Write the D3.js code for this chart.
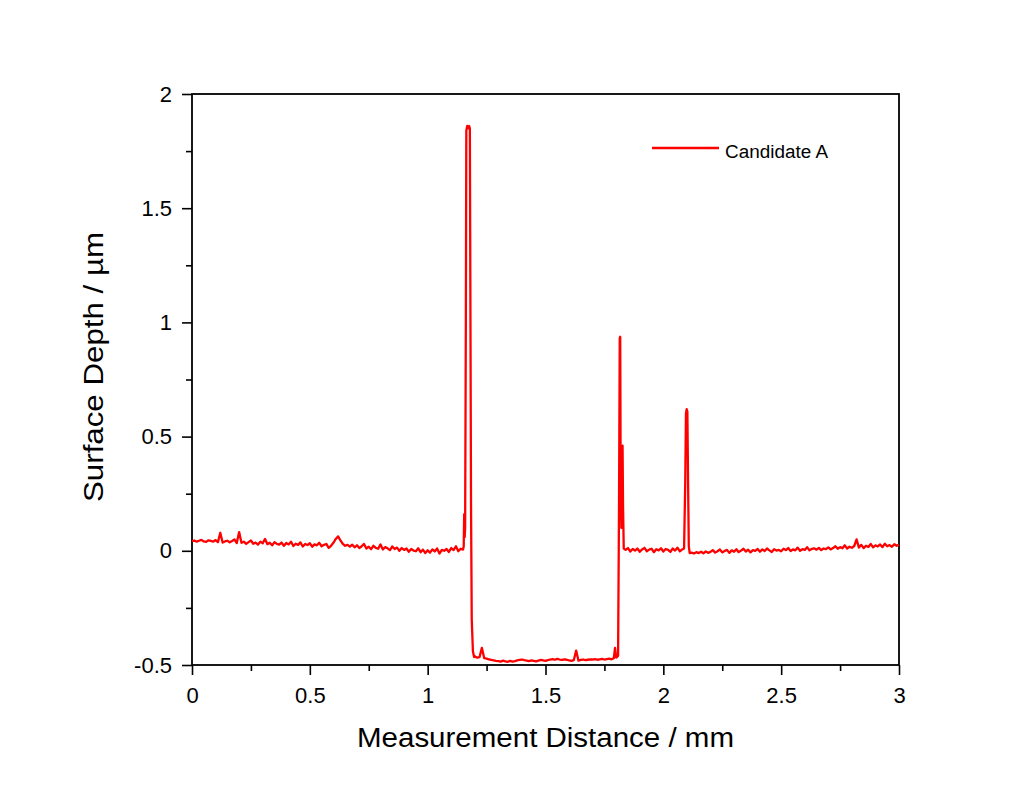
<!DOCTYPE html>
<html>
<head>
<meta charset="utf-8">
<script src="https://cdn.jsdelivr.net/npm/d3@7"></script>
<style>
  body { margin: 0; background: #fff; }
  text { font-family: "Liberation Sans", Arial, sans-serif; fill: #000; }
</style>
</head>
<body>
<svg id="chart" width="1024" height="790"></svg>
<script>
// profile samples (µm); regular runs start at xStart with 0.01 mm spacing
const leftStart = 0.0;
const leftBase = [
  0.042, 0.045, 0.040, 0.044, 0.048, 0.041, 0.039, 0.046, 0.043, 0.040,
  0.047, 0.038, 0.079, 0.036, 0.041, 0.044, 0.037, 0.043, 0.050, 0.034,
  0.082, 0.035, 0.040, 0.030, 0.038, 0.045, 0.031, 0.036, 0.027, 0.040,
  0.033, 0.052, 0.029, 0.035, 0.024, 0.038, 0.030, 0.027, 0.036, 0.022,
  0.034, 0.028, 0.040, 0.021, 0.031, 0.026, 0.037, 0.019, 0.030, 0.025,
  0.033, 0.018, 0.028, 0.024, 0.035, 0.020, 0.026, 0.030, 0.013, 0.022,
  0.035, 0.052, 0.063, 0.045, 0.030, 0.022, 0.026, 0.018, 0.027, 0.015,
  0.024, 0.012, 0.020, 0.030, 0.010, 0.018, 0.007, 0.022, 0.013, 0.009,
  0.028, 0.006, 0.016, 0.011, 0.003, 0.019, 0.008, 0.014, 0.000, 0.012,
  0.004, 0.010, -0.004, 0.008, 0.001, -0.002, 0.011, -0.006, 0.005, -0.010,
  0.002, -0.008, 0.006, -0.003, 0.010, -0.012, 0.004, 0.000, 0.008, -0.005,
  0.012, 0.003, 0.020, -0.002, 0.009, 0.005
];
const bigPeak = [
  [1.153, 0.02], [1.155, 0.16], [1.157, 0.06], [1.159, 0.10], [1.162, 1.0],
  [1.164, 1.84], [1.168, 1.86], [1.172, 1.85], [1.176, 1.86], [1.179, 1.85],
  [1.181, 1.2], [1.184, 0.2], [1.187, -0.3], [1.192, -0.44], [1.197, -0.465]
];
const pitStart = 1.20;
const pitBase = [
  -0.462, -0.468, -0.466, -0.425, -0.470, -0.472, -0.475, -0.478, -0.480, -0.482,
  -0.483, -0.485, -0.481, -0.484, -0.486, -0.482, -0.485, -0.483, -0.480, -0.478,
  -0.476, -0.479, -0.481, -0.483, -0.480, -0.482, -0.484, -0.481, -0.478, -0.480,
  -0.482, -0.479, -0.476, -0.474, -0.477, -0.473, -0.476, -0.478, -0.475, -0.477,
  -0.480, -0.482, -0.479, -0.437, -0.481, -0.478, -0.476, -0.479, -0.477, -0.475,
  -0.476, -0.474, -0.477, -0.475, -0.473, -0.476, -0.474, -0.472, -0.475, -0.470
];
const stepUp = [
  [1.795, -0.425], [1.80, -0.468], [1.808, -0.46], [1.812, 0.2], [1.815, 0.93],
  [1.817, 0.937], [1.819, 0.3], [1.822, 0.1], [1.825, 0.45], [1.827, 0.46],
  [1.829, 0.2], [1.832, 0.01]
];
const midStart = 1.84;
const midBase = [
  0.004, 0.012, -0.003, 0.008, 0.001, 0.010,
  -0.004, 0.006, 0.013, -0.002, 0.005, 0.009, -0.006, 0.007, 0.002, 0.011,
  -0.003, 0.008, 0.004, -0.005, 0.010, 0.001, 0.014, -0.002, 0.006
];
const smallPeak = [
  [2.088, 0.01], [2.093, 0.3], [2.096, 0.60], [2.099, 0.62], [2.102, 0.61],
  [2.105, 0.3], [2.108, 0.02], [2.112, -0.01]
];
const rightStart = 2.12;
const rightBase = [
  -0.008, -0.012, -0.006, -0.010, -0.004, -0.011, -0.003, -0.009,
  -0.005, 0.003, -0.008, -0.002, 0.006, -0.007, -0.001, 0.004, -0.009, 0.002,
  -0.004, 0.007, -0.006, 0.001, 0.009, -0.003, 0.005, -0.007, 0.003, 0.000,
  0.008, -0.004, 0.006, -0.001, 0.010, 0.002, -0.005, 0.007, 0.001, 0.004,
  -0.002, 0.009, 0.003, 0.012, -0.001, 0.006, 0.002, 0.014, 0.000, 0.007,
  0.004, 0.016, 0.002, 0.008, 0.011, 0.005, 0.013, 0.003, 0.010, 0.007,
  0.015, 0.006, 0.012, 0.020, 0.009, 0.016, 0.011, 0.024, 0.010, 0.018,
  0.013, 0.021, 0.050, 0.014, 0.026, 0.012, 0.022, 0.017, 0.030, 0.015,
  0.024, 0.019, 0.028, 0.016, 0.031, 0.020, 0.025, 0.018, 0.029, 0.022,
  0.027
];
const xTicks = [0, 0.5, 1, 1.5, 2, 2.5, 3];
const yTicks = [-0.5, 0, 0.5, 1, 1.5, 2];
const seriesName = "Candidate A";

const run = (start, vals) => vals.map((v, i) => [start + i * 0.01, v]);
const data = [].concat(
  run(leftStart, leftBase), bigPeak, run(pitStart, pitBase), stepUp,
  run(midStart, midBase), smallPeak, run(rightStart, rightBase)
);

const margin = { top: 94, left: 192 };
const width = 707, height = 571;
const svg = d3.select("#chart");
svg.append("rect").attr("width", 1024).attr("height", 790).attr("fill", "#fff");
const g = svg.append("g").attr("transform", `translate(${margin.left},${margin.top})`);

const x = d3.scaleLinear().domain([0, 3]).range([0, width]);
const y = d3.scaleLinear().domain([-0.5, 2]).range([height, 0]);

// minor ticks
const xMinor = d3.range(0.25, 3, 0.5);
const yMinor = d3.range(-0.25, 2, 0.5);

g.append("g").attr("transform", `translate(0,${height})`)
  .call(d3.axisBottom(x).tickValues(xTicks).tickFormat(String).tickSize(10).tickPadding(12));
g.append("g").attr("transform", `translate(0,${height})`)
  .call(d3.axisBottom(x).tickValues(xMinor).tickFormat("").tickSize(6))
  .select(".domain").remove();
g.append("g")
  .call(d3.axisLeft(y).tickValues(yTicks).tickFormat(String).tickSize(10).tickPadding(10));
g.append("g")
  .call(d3.axisLeft(y).tickValues(yMinor).tickFormat("").tickSize(6))
  .select(".domain").remove();

g.selectAll(".tick line").attr("stroke", "#000").attr("stroke-width", 1.6);
g.selectAll(".domain").remove();
g.selectAll(".tick text").style("font-size", "22px");

g.append("rect").attr("width", width).attr("height", height)
  .attr("fill", "none").attr("stroke", "#000").attr("stroke-width", 1.8);

g.append("path").datum(data)
  .attr("fill", "none").attr("stroke", "#ff0000").attr("stroke-width", 2.3)
  .attr("stroke-linejoin", "round")
  .attr("d", d3.line().x((d) => x(d[0])).y((d) => y(d[1])));

// legend
g.append("line").attr("x1", 460).attr("x2", 527).attr("y1", 54).attr("y2", 54)
  .attr("stroke", "#ff0000").attr("stroke-width", 2.3);
g.append("text").attr("x", 533).attr("y", 64).style("font-size", "18px")
  .attr("textLength", 103).attr("lengthAdjust", "spacingAndGlyphs").text(seriesName);

svg.append("text").attr("x", margin.left + width / 2).attr("y", 747)
  .attr("text-anchor", "middle").style("font-size", "27px")
  .attr("textLength", 377).attr("lengthAdjust", "spacingAndGlyphs")
  .text("Measurement Distance / mm");
svg.append("text").attr("transform", "translate(103,367) rotate(-90)")
  .attr("text-anchor", "middle").style("font-size", "27px")
  .attr("textLength", 270).attr("lengthAdjust", "spacingAndGlyphs")
  .text("Surface Depth / µm");
</script>
</body>
</html>
